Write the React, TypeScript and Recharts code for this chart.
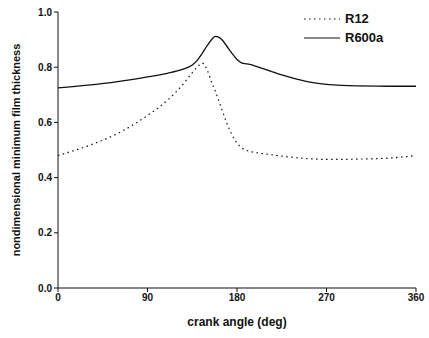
import React from "react";
import { Line, LineChart, XAxis, YAxis } from "recharts";

const ANGLES = [
  0, 30, 60, 90, 110, 125, 135, 140, 145, 150, 155, 158, 162, 166, 170, 175,
  180, 185, 190, 195, 200, 210, 225, 240, 255, 270, 285, 300, 330, 360,
];

const R12 = [
  0.48, 0.515, 0.56, 0.625, 0.68, 0.735, 0.78, 0.8, 0.815, 0.79, 0.74, 0.715,
  0.675, 0.635, 0.595, 0.555, 0.525, 0.507, 0.498, 0.493, 0.49, 0.485, 0.478,
  0.472, 0.468, 0.466, 0.466, 0.467, 0.47, 0.48,
];

const R600A = [
  0.725, 0.735, 0.748, 0.765, 0.778, 0.792, 0.808, 0.825, 0.85, 0.878, 0.902,
  0.912, 0.908, 0.895, 0.875, 0.85, 0.828, 0.815, 0.812, 0.808, 0.802, 0.79,
  0.772, 0.757, 0.745, 0.738, 0.734, 0.732, 0.731, 0.731,
];

const X_TICKS = [0, 90, 180, 270, 360];
const Y_TICKS = [0, 0.2, 0.4, 0.6, 0.8, 1.0];

const FONT = "'Liberation Sans', Arial, sans-serif";
const INK = "#111";

const data = ANGLES.map((a, i) => ({ angle: a, r12: R12[i], r600a: R600A[i] }));

// legend sits over the plot, top right, like the original figure
function LegendBox() {
  const row = (dash: string | undefined, label: string) => (
    <div style={{ display: "flex", alignItems: "center", height: 19 }}>
      <svg width={38} height={6}>
        <line x1={0} y1={3} x2={36} y2={3} stroke={INK} strokeWidth={1.2} strokeDasharray={dash} />
      </svg>
      <span style={{ fontFamily: FONT, fontWeight: 700, fontSize: 13, color: INK, marginLeft: 3 }}>{label}</span>
    </div>
  );
  return (
    <div style={{ position: "absolute", left: 304, top: 9 }}>
      {row("1.5 3.5", "R12")}
      {row(undefined, "R600a")}
    </div>
  );
}

export default function App() {
  return (
    <div style={{ position: "absolute", left: 0, top: 0, width: 429, height: 338, background: "#fff" }}>
      <LineChart width={429} height={338} data={data} margin={{ top: 12, right: 13, bottom: 20, left: 0 }}>
        <XAxis
          dataKey="angle"
          type="number"
          domain={[0, 360]}
          ticks={X_TICKS}
          height={30}
          tick={{ fontFamily: FONT, fontWeight: 700, fontSize: 10, fill: INK }}
          tickSize={4}
          stroke={INK}
          label={{
            value: "crank angle (deg)",
            position: "insideBottom",
            offset: -8,
            style: { fontFamily: FONT, fontWeight: 700, fontSize: 12, fill: INK },
          }}
        />
        <YAxis
          type="number"
          domain={[0, 1]}
          ticks={Y_TICKS}
          width={58}
          tickFormatter={(v) => Number(v).toFixed(1)}
          tick={{ fontFamily: FONT, fontWeight: 700, fontSize: 10, fill: INK }}
          tickSize={4}
          stroke={INK}
          label={{
            value: "nondimensional minimum film thickness",
            angle: -90,
            position: "insideLeft",
            offset: 16,
            style: { fontFamily: FONT, fontWeight: 700, fontSize: 11, fill: INK, textAnchor: "middle" },
          }}
        />
        <Line
          dataKey="r12"
          name="R12"
          type="monotone"
          stroke={INK}
          strokeWidth={1.2}
          strokeDasharray="1.5 3.5"
          dot={false}
          isAnimationActive={false}
        />
        <Line
          dataKey="r600a"
          name="R600a"
          type="monotone"
          stroke={INK}
          strokeWidth={1.3}
          dot={false}
          isAnimationActive={false}
        />
      </LineChart>
      <LegendBox />
    </div>
  );
}
